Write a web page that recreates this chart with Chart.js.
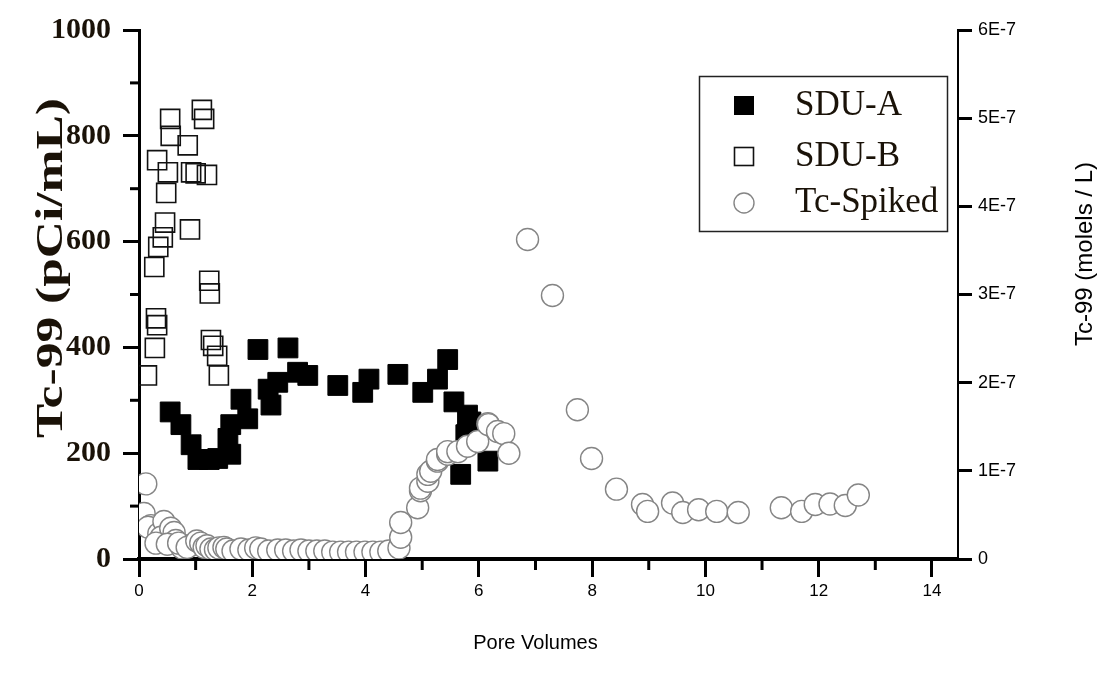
<!DOCTYPE html>
<html>
<head>
<meta charset="utf-8">
<script src="https://cdn.jsdelivr.net/npm/chart.js@4.4.1/dist/chart.umd.min.js"></script>
<style>
  html, body { margin: 0; padding: 0; background: #fff; }
  #wrap { width: 1118px; height: 679px; }
</style>
</head>
<body>
<div id="wrap"><canvas id="poreChart" width="1118" height="679"></canvas></div>
<script>
// SDU-A (filled squares), pCi/mL vs pore volumes
var sduA_x = [0.55, 0.74, 0.92, 1.04, 1.24, 1.39, 1.62, 1.57, 1.62, 1.80, 1.92, 2.10, 2.28, 2.33, 2.45, 2.63, 2.80, 2.98,
              3.51, 3.95, 4.06, 4.57, 5.01, 5.27, 5.45, 5.56, 5.77, 5.80, 5.86, 5.98, 5.68, 6.16];
var sduA_y = [278, 254, 216, 188, 188, 190, 198, 228, 254, 302, 265, 396, 321, 291, 334, 399, 353, 347,
              328, 315, 340, 349, 315, 340, 377, 297, 235, 272, 259, 246, 160, 185];

// SDU-B (open squares)
var sduB_x = [0.14, 0.28, 0.30, 0.32, 0.27, 0.34, 0.42, 0.46, 0.48, 0.51, 0.55, 0.56, 0.32, 0.86, 0.90, 0.92,
              1.00, 1.11, 1.15, 1.20, 1.24, 1.25, 1.27, 1.31, 1.38, 1.41];
var sduB_y = [347, 399, 455, 442, 552, 590, 608, 636, 692, 731, 832, 800, 754, 782, 623, 731,
              729, 849, 832, 726, 526, 502, 414, 403, 384, 347];

// Tc-Spiked (open circles)
var tc_x = [0.12, 0.09, 0.21, 0.16, 0.35, 0.44, 0.39, 0.56, 0.30, 0.62, 0.65, 0.50, 0.76, 0.70, 0.92, 0.85, 1.02, 1.09,
            1.15, 1.20, 1.27, 1.35, 1.41, 1.50, 1.55, 1.66, 1.80, 1.94, 2.06, 2.15, 2.29, 2.45, 2.59, 2.73, 2.86,
            3.00, 3.14, 3.28, 3.42, 3.56, 3.70, 3.84, 3.99, 4.13, 4.27, 4.41, 4.59,
            4.62, 4.62, 4.92, 4.97, 4.97, 5.10, 5.10, 5.15, 5.27, 5.27, 5.45, 5.45, 5.63, 5.80, 5.98,
            6.16, 6.17, 6.33, 6.44, 6.53, 6.86, 7.30, 7.74, 7.99, 8.43, 8.89, 8.98, 9.42, 9.60, 9.88,
            10.20, 10.58, 11.34, 11.70, 11.94, 12.20, 12.47, 12.70];
var tc_y = [142, 86, 63, 60, 48, 71, 41, 58, 30, 50, 35, 28, 21, 30, 26, 22, 34, 30,
            22, 25, 19, 18, 21, 22, 19, 15, 19, 17, 21, 19, 15, 17, 17, 15, 17,
            15, 15, 15, 13, 13, 13, 13, 13, 13, 13, 15, 21,
            41, 69, 97, 129, 134, 147, 160, 166, 185, 188, 198, 203, 203, 213, 222,
            256, 254, 241, 237, 200, 604, 498, 282, 190, 132, 103, 90, 106, 88, 93,
            90, 88, 97, 90, 103, 104, 101, 121];

var xTicksMax = 14.46;
var leftMax = 1000;
var rightMax = 6e-7;

function toPoints(xs, ys) {
  return xs.map(function(x, i) { return { x: x, y: ys[i] }; });
}

var decor = {
  id: 'decor',
  afterDraw: function(chart) {
    var ctx = chart.ctx, xs = chart.scales.x, ys = chart.scales.y, area = chart.chartArea;
    ctx.save();
    ctx.strokeStyle = '#000';
    ctx.lineWidth = 3;
    // minor ticks
    xs.ticks.forEach(function(t) {
      if (Math.round(t.value) % 2 !== 0) {
        var px = xs.getPixelForValue(t.value);
        ctx.beginPath(); ctx.moveTo(px, area.bottom); ctx.lineTo(px, area.bottom + 11); ctx.stroke();
      }
    });
    ys.ticks.forEach(function(t) {
      if (Math.round(t.value) % 200 !== 0) {
        var py = ys.getPixelForValue(t.value);
        ctx.beginPath(); ctx.moveTo(area.left - 9, py); ctx.lineTo(area.left, py); ctx.stroke();
      }
    });

    // axis titles
    ctx.fillStyle = '#1a1208';
    ctx.textAlign = 'center';
    ctx.textBaseline = 'middle';
    ctx.save();
    ctx.translate(52, 268);
    ctx.rotate(-Math.PI / 2);
    ctx.font = 'bold 38px "Liberation Serif"';
    var leftTitle = 'Tc-99 (pCi/mL)';
    var w = ctx.measureText(leftTitle).width;
    ctx.scale(340 / w, 1);
    ctx.fillText(leftTitle, 0, 0);
    ctx.restore();

    ctx.fillStyle = '#000';
    ctx.save();
    ctx.translate(1085, 254);
    ctx.rotate(-Math.PI / 2);
    ctx.font = '24px "Liberation Sans"';
    ctx.fillText('Tc-99 (molels / L)', 0, 0);
    ctx.restore();

    ctx.font = '20px "Liberation Sans"';
    ctx.fillText('Pore Volumes', xs.getPixelForValue(7), 643);

    // legend
    var ds = chart.data.datasets;
    ctx.lineWidth = 1.5;
    ctx.strokeStyle = '#222';
    ctx.strokeRect(699.5, 76.5, 248, 155);
    var rows = [105, 156, 202];
    ctx.font = '35px "Liberation Serif"';
    ctx.textAlign = 'left';
    ctx.fillStyle = '#1a1208';
    ds.forEach(function(d, i) {
      var cy = rows[i];
      ctx.save();
      if (d.pointStyle === 'rect') {
        ctx.lineWidth = d.borderWidth;
        ctx.strokeStyle = d.borderColor;
        if (d.backgroundColor !== 'rgba(0,0,0,0)') {
          ctx.fillStyle = d.backgroundColor;
          ctx.fillRect(734, cy - 9, 20, 19);
        }
        ctx.strokeRect(734.5, cy - 8.5, 19, 18);
      } else {
        ctx.lineWidth = d.borderWidth;
        ctx.strokeStyle = d.borderColor;
        ctx.beginPath(); ctx.arc(744, cy + 1, 10, 0, Math.PI * 2); ctx.stroke();
      }
      ctx.restore();
      ctx.fillText(d.label, 795, cy + 1);
    });
    ctx.restore();
  }
};

new Chart(document.getElementById('poreChart').getContext('2d'), {
  type: 'scatter',
  data: {
    datasets: [
      { label: 'SDU-A', data: toPoints(sduA_x, sduA_y), pointStyle: 'rect', pointRadius: 14,
        backgroundColor: '#000', borderColor: '#000', borderWidth: 1, order: 3 },
      { label: 'SDU-B', data: toPoints(sduB_x, sduB_y), pointStyle: 'rect', pointRadius: 13.5,
        backgroundColor: 'rgba(0,0,0,0)', borderColor: '#111', borderWidth: 1.6, order: 2 },
      { label: 'Tc-Spiked', data: toPoints(tc_x, tc_y), pointStyle: 'circle', pointRadius: 11,
        backgroundColor: '#fff', borderColor: '#858585', borderWidth: 1.4, order: 1 }
    ]
  },
  options: {
    responsive: false,
    animation: false,
    events: [],
    layout: { padding: { top: 23, left: 0, right: 0, bottom: 0 } },
    plugins: { legend: { display: false }, tooltip: { enabled: false } },
    scales: {
      x: {
        type: 'linear', position: 'bottom', min: 0, max: xTicksMax,
        afterFit: function(s) { s.height = 120; },
        border: { display: true, color: '#000', width: 4 },
        grid: {
          drawOnChartArea: false, tickLength: 18, tickWidth: 3,
          tickColor: function(c) { return c.tick && Math.round(c.tick.value) % 2 === 0 ? '#000' : 'rgba(0,0,0,0)'; }
        },
        ticks: {
          stepSize: 1, autoSkip: false, includeBounds: false, maxRotation: 0, padding: 4, color: '#000',
          font: { family: 'Liberation Sans', size: 17 },
          callback: function(v) { return Math.round(v) % 2 === 0 ? String(v) : ''; }
        }
      },
      y: {
        type: 'linear', position: 'left', min: 0, max: leftMax,
        afterFit: function(s) { s.width = 139; },
        border: { display: true, color: '#000', width: 3 },
        grid: {
          drawOnChartArea: false, tickLength: 16, tickWidth: 3,
          tickColor: function(c) { return c.tick && Math.round(c.tick.value) % 200 === 0 ? '#000' : 'rgba(0,0,0,0)'; }
        },
        ticks: {
          stepSize: 100, autoSkip: false, padding: 12, color: '#1a1208',
          font: { family: 'Liberation Serif', size: 30, weight: 'bold' },
          callback: function(v) { return Math.round(v) % 200 === 0 ? String(v) : ''; }
        }
      },
      y2: {
        type: 'linear', position: 'right', min: 0, max: rightMax,
        afterFit: function(s) { s.width = 160; },
        border: { display: true, color: '#000', width: 2 },
        grid: { drawOnChartArea: false, tickLength: 14, tickWidth: 3, tickColor: '#000' },
        ticks: {
          stepSize: 1e-7, autoSkip: false, padding: 6, color: '#000',
          font: { family: 'Liberation Sans', size: 18 },
          callback: function(v) {
            var n = Math.round(v * 1e7);
            return n === 0 ? '0' : n + 'E-7';
          }
        }
      }
    }
  },
  plugins: [decor]
});
</script>
</body>
</html>
